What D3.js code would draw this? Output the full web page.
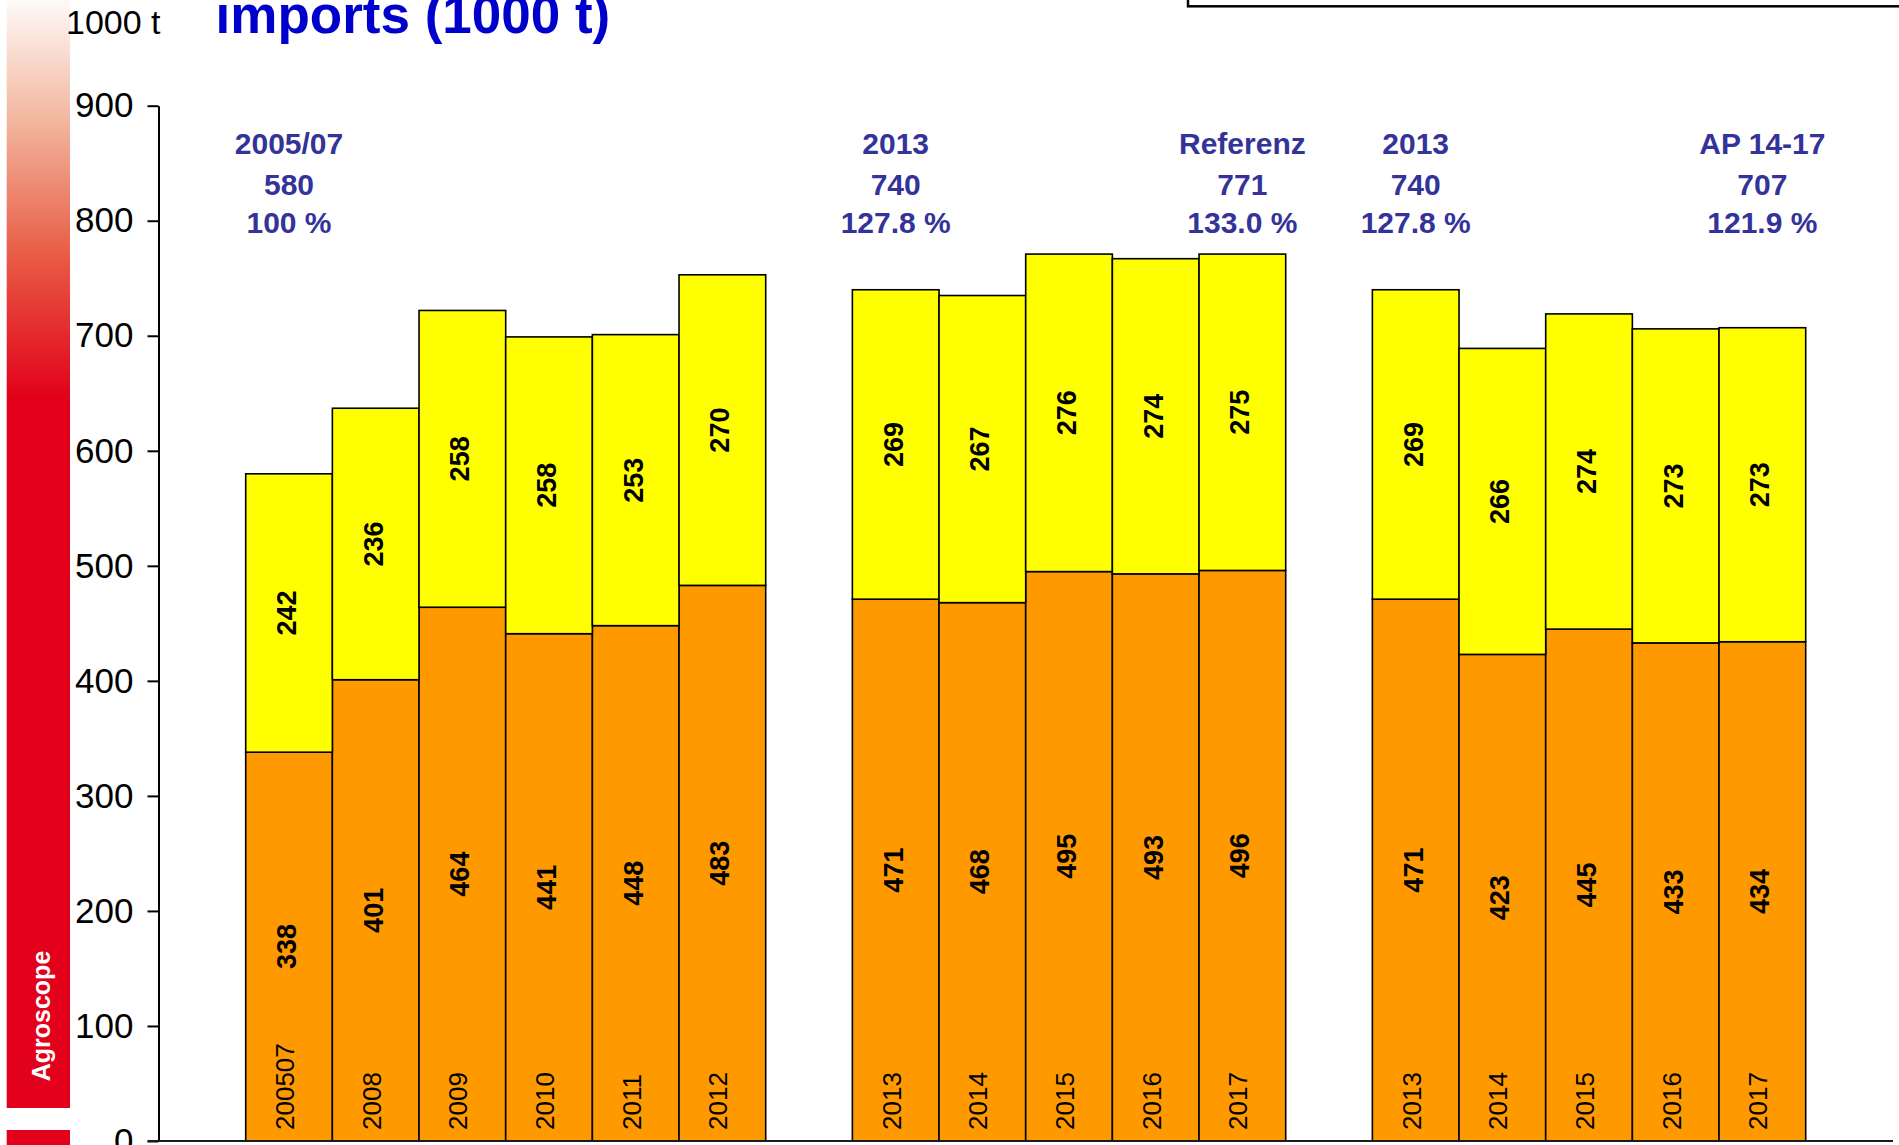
<!DOCTYPE html>
<html>
<head>
<meta charset="utf-8">
<script src="https://cdn.jsdelivr.net/npm/d3@7"></script>
<style>
  html, body { margin: 0; padding: 0; background: #ffffff; overflow: hidden; }
  svg { display: block; }
  text { font-family: "Liberation Sans", Arial, Helvetica, sans-serif; }
</style>
</head>
<body>
<svg id="chart" width="1899" height="1145"></svg>
<script>
// ---------------- data ----------------
const group1Years = ["200507", "2008", "2009", "2010", "2011", "2012"];
const group1Orange = [338, 401, 464, 441, 448, 483];
const group1Yellow = [242, 236, 258, 258, 253, 270];

const group2Years = ["2013", "2014", "2015", "2016", "2017"];
const group2Orange = [471, 468, 495, 493, 496];
const group2Yellow = [269, 267, 276, 274, 275];

const group3Years = ["2013", "2014", "2015", "2016", "2017"];
const group3Orange = [471, 423, 445, 433, 434];
const group3Yellow = [269, 266, 274, 273, 273];

const yTickValues = [0, 100, 200, 300, 400, 500, 600, 700, 800, 900];
const yUnitLabel = "1000 t";
const titleText = "imports (1000 t)";

// annotations above bars: [group, index]
const annoPositions = [[1, 0], [2, 0], [2, 4], [3, 0], [3, 4]];
const annoLabels = ["2005/07", "2013", "Referenz", "2013", "AP 14-17"];
const annoTotals = ["580", "740", "771", "740", "707"];
const annoPercents = ["100 %", "127.8 %", "133.0 %", "127.8 %", "121.9 %"];

// ---------------- build rows ----------------
const groups = [
  { id: 1, years: group1Years, orange: group1Orange, yellow: group1Yellow },
  { id: 2, years: group2Years, orange: group2Orange, yellow: group2Yellow },
  { id: 3, years: group3Years, orange: group3Orange, yellow: group3Yellow }
];
const slotKeys = [];
const rows = [];
groups.forEach((g, gi) => {
  if (gi > 0) slotKeys.push("gap" + gi);
  g.years.forEach((yr, i) => {
    const key = "g" + g.id + "-" + i;
    slotKeys.push(key);
    rows.push({ key, year: yr, orange: g.orange[i], yellow: g.yellow[i] });
  });
});

// ---------------- scales ----------------
const svg = d3.select("#chart");
const x = d3.scaleBand().domain(slotKeys).range([245.7, 1805.7]).padding(0);
const y = d3.scaleLinear().domain([0, 900]).range([1141, 105.7]);
const bw = x.bandwidth();

// ---------------- Agroscope side bar ----------------
const defs = svg.append("defs");
const grad = defs.append("linearGradient").attr("id", "agroGrad")
  .attr("x1", 0).attr("y1", 0).attr("x2", 0).attr("y2", 1);
grad.append("stop").attr("offset", 0).attr("stop-color", "#fefaf8");
grad.append("stop").attr("offset", 0.11).attr("stop-color", "#f3b59d");
grad.append("stop").attr("offset", 0.23).attr("stop-color", "#e85c45");
grad.append("stop").attr("offset", 0.36).attr("stop-color", "#e2001a");
grad.append("stop").attr("offset", 1).attr("stop-color", "#e2001a");
svg.append("rect").attr("x", 6.7).attr("y", 0).attr("width", 63.3).attr("height", 1108)
  .attr("fill", "url(#agroGrad)");
svg.append("rect").attr("x", 6.7).attr("y", 1130).attr("width", 63.3).attr("height", 20)
  .attr("fill", "#e2001a");
svg.append("text").text("Agroscope")
  .attr("transform", "translate(50,1016) rotate(-90)")
  .attr("text-anchor", "middle").attr("fill", "#ffffff")
  .attr("font-weight", "bold").attr("font-size", 25);

// ---------------- legend box (cut off) ----------------
svg.append("rect").attr("x", 1188).attr("y", -60).attr("width", 800).attr("height", 66.3)
  .attr("fill", "#ffffff").attr("stroke", "#000000").attr("stroke-width", 2.5);

// ---------------- title & unit ----------------
svg.append("text").text(titleText)
  .attr("x", 215.6).attr("y", 33)
  .attr("font-size", 53).attr("font-weight", "bold").attr("fill", "#0000cc");
svg.append("text").text(yUnitLabel)
  .attr("x", 66).attr("y", 34).attr("font-size", 34).attr("fill", "#000000");

// ---------------- bars ----------------
const barG = svg.append("g");
barG.selectAll("rect.orange").data(rows).join("rect").attr("class", "orange")
  .attr("x", d => x(d.key)).attr("width", bw)
  .attr("y", d => y(d.orange)).attr("height", d => y(0) - y(d.orange))
  .attr("fill", "#ff9900").attr("stroke", "#000000").attr("stroke-width", 1.6);
barG.selectAll("rect.yellow").data(rows).join("rect").attr("class", "yellow")
  .attr("x", d => x(d.key)).attr("width", bw)
  .attr("y", d => y(d.orange + d.yellow)).attr("height", d => y(d.orange) - y(d.orange + d.yellow))
  .attr("fill", "#ffff00").attr("stroke", "#000000").attr("stroke-width", 1.6);

// value labels
const lblG = svg.append("g");
lblG.selectAll("text.ov").data(rows).join("text").attr("class", "ov")
  .text(d => d.orange)
  .attr("transform", d => `translate(${x(d.key) + bw / 2 + 7},${y(d.orange / 2)}) rotate(-90)`)
  .attr("text-anchor", "middle").attr("font-weight", "bold").attr("font-size", 27).attr("fill", "#000");
lblG.selectAll("text.yv").data(rows).join("text").attr("class", "yv")
  .text(d => d.yellow)
  .attr("transform", d => `translate(${x(d.key) + bw / 2 + 7},${y(d.orange + d.yellow / 2)}) rotate(-90)`)
  .attr("text-anchor", "middle").attr("font-weight", "bold").attr("font-size", 27).attr("fill", "#000");
// year labels
lblG.selectAll("text.yr").data(rows).join("text").attr("class", "yr")
  .text(d => d.year)
  .attr("transform", d => `translate(${x(d.key) + bw / 2 + 5},1130) rotate(-90)`)
  .attr("text-anchor", "start").attr("font-size", 26).attr("fill", "#000");

// ---------------- axes ----------------
const yAxis = d3.axisLeft(y).tickValues(yTickValues).tickSize(11).tickSizeOuter(0).tickPadding(14);
const yg = svg.append("g").attr("transform", "translate(158.5,0)").call(yAxis);
yg.select(".domain").attr("stroke", "#000").attr("stroke-width", 2);
yg.selectAll(".tick line").attr("stroke", "#000").attr("stroke-width", 2);
yg.selectAll(".tick text").attr("font-size", 35).attr("fill", "#000")
  .attr("font-family", "'Liberation Sans', Arial, sans-serif");

svg.append("line").attr("x1", 147.7).attr("x2", 1893).attr("y1", y(0)).attr("y2", y(0))
  .attr("stroke", "#1a1a1a").attr("stroke-width", 2.2);

// ---------------- annotations ----------------
const annoG = svg.append("g").attr("fill", "#333399").attr("font-weight", "bold").attr("font-size", 30)
  .attr("text-anchor", "middle");
annoPositions.forEach((p, i) => {
  const cx = x("g" + p[0] + "-" + p[1]) + bw / 2;
  annoG.append("text").attr("x", cx).attr("y", 154).text(annoLabels[i]);
  annoG.append("text").attr("x", cx).attr("y", 194.5).text(annoTotals[i]);
  annoG.append("text").attr("x", cx).attr("y", 233).text(annoPercents[i]);
});
</script>
</body>
</html>
